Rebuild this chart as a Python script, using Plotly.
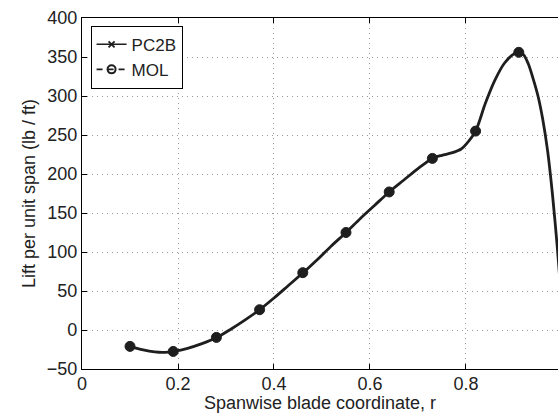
import plotly.graph_objects as go

# PC2B solution (dense curve)
pc2b_r = [0.10, 0.12, 0.14, 0.16, 0.18, 0.19, 0.22, 0.25, 0.28, 0.31, 0.34, 0.37,
          0.40, 0.43, 0.46, 0.49, 0.52, 0.55, 0.58, 0.61, 0.64, 0.67, 0.70, 0.73,
          0.75, 0.77, 0.79, 0.80, 0.82, 0.84, 0.86, 0.88, 0.90, 0.91, 0.92, 0.93,
          0.94, 0.95, 0.96, 0.97, 0.98, 0.99, 1.00]
pc2b_lift = [-21, -24.5, -27, -28.5, -28.3, -27.5, -23.5, -17.5, -10, 1, 13, 26,
             41, 57, 73, 90, 108, 125, 143, 160, 177, 192, 207, 220,
             224, 227, 232, 238, 255, 290, 320, 342, 354, 356, 353, 341,
             322, 300, 270, 230, 175, 108, 30]

# MOL solution (markers)
mol_r = [0.10, 0.19, 0.28, 0.37, 0.46, 0.55, 0.64, 0.73, 0.82, 0.91]
mol_lift = [-21, -27.5, -9.5, 26, 73.5, 125, 177, 220, 255, 356]

x_ticks = [0, 0.2, 0.4, 0.6, 0.8, 1.0]
x_tick_labels = ["0", "0.2", "0.4", "0.6", "0.8", "1"]
y_ticks = [-50, 0, 50, 100, 150, 200, 250, 300, 350, 400]

FONT = "Liberation Sans, Arial, Helvetica, sans-serif"
INK = "#1e1e1e"
FS = 18

fig = go.Figure()

# PC2B curve
fig.add_trace(go.Scatter(
    x=pc2b_r, y=pc2b_lift, mode="lines",
    line=dict(color=INK, width=2.8, shape="spline", smoothing=0.8),
    showlegend=False, hoverinfo="skip"))

# MOL markers on the curve
fig.add_trace(go.Scatter(
    x=mol_r, y=mol_lift, mode="markers",
    marker=dict(symbol="circle", size=10, color=INK,
                line=dict(color=INK, width=1)),
    showlegend=False, hoverinfo="skip"))

# legend entries
fig.add_trace(go.Scatter(
    x=[None], y=[None], mode="lines+markers", name="PC2B",
    line=dict(color=INK, width=1.6),
    marker=dict(symbol="x-thin", size=6, line=dict(color=INK, width=1.8))))
fig.add_trace(go.Scatter(
    x=[None], y=[None], mode="lines+markers", name="MOL",
    line=dict(color=INK, width=1.6, dash="6px,5px"),
    marker=dict(symbol="circle-open", size=8, line=dict(color=INK, width=2))))

fig.update_layout(
    width=558, height=413,
    margin=dict(l=82, r=0, t=18, b=44),
    paper_bgcolor="white", plot_bgcolor="white",
    font=dict(family=FONT, size=FS, color="#222"),
    legend=dict(x=0.018, y=0.978, xanchor="left", yanchor="top",
                bgcolor="white", bordercolor="black", borderwidth=1,
                font=dict(size=17), tracegroupgap=0),
)

fig.update_xaxes(
    range=[0, 0.9917], tickvals=x_ticks, ticktext=x_tick_labels,
    showline=True, linecolor="black", linewidth=1.3, mirror="ticks",
    ticks="inside", ticklen=5, tickcolor="black", tickwidth=1,
    ticklabelstandoff=-2,
    showgrid=True, gridcolor="#999", gridwidth=1, griddash="1px,4px",
    zeroline=False,
    title=dict(text="Spanwise blade coordinate, r", standoff=3, font=dict(size=FS)),
    tickfont=dict(size=FS))

fig.update_yaxes(
    range=[-50, 400], tickvals=y_ticks,
    showline=True, linecolor="black", linewidth=1.3, mirror=False,
    ticks="inside", ticklen=5, tickcolor="black", tickwidth=1,
    showgrid=True, gridcolor="#999", gridwidth=1, griddash="1px,4px",
    zeroline=False,
    title=dict(text="Lift per unit span (lb / ft)", standoff=6, font=dict(size=FS)),
    tickfont=dict(size=FS))

fig.write_html("out.html")
